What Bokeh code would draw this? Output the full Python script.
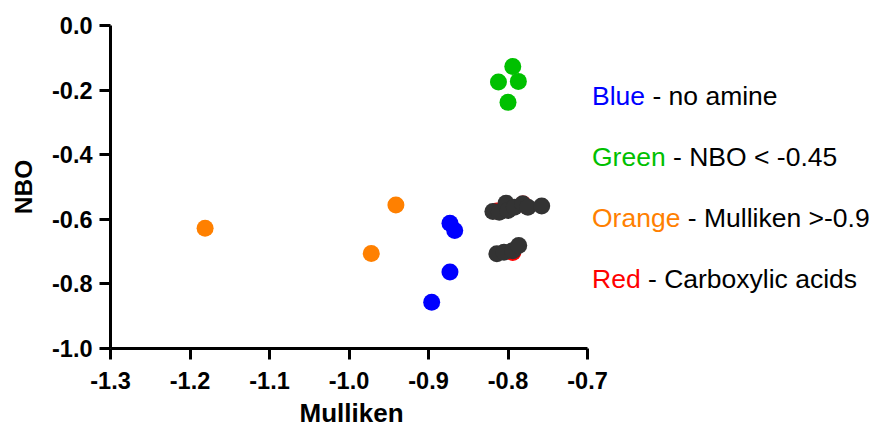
from bokeh.plotting import figure
from bokeh.models import Range1d, FixedTicker, Title
from bokeh.core.properties import value
from bokeh.embed import file_html
from bokeh.resources import INLINE

# ---- data ----
blue_x = [-0.873, -0.867, -0.873, -0.896]
blue_y = [-0.612, -0.635, -0.763, -0.857]

green_x = [-0.794, -0.812, -0.787, -0.800]
green_y = [-0.127, -0.175, -0.173, -0.238]

orange_x = [-1.181, -0.941, -0.972]
orange_y = [-0.628, -0.556, -0.706]

red_x = [-0.814, -0.781, -0.794]
red_y = [-0.574, -0.553, -0.703]

black_x = [-0.819, -0.811, -0.8025, -0.800, -0.792, -0.7815, -0.775, -0.7576,
           -0.814, -0.805, -0.794, -0.7865]
black_y = [-0.576, -0.578, -0.550, -0.573, -0.5625, -0.552, -0.5625, -0.559,
           -0.707, -0.702, -0.697, -0.681]

x_ticks = [-1.3, -1.2, -1.1, -1.0, -0.9, -0.8, -0.7]
x_tick_labels = ["-1.3", "-1.2", "-1.1", "-1.0", "-0.9", "-0.8", "-0.7"]
y_ticks = [0.0, -0.2, -0.4, -0.6, -0.8, -1.0]
y_tick_labels = ["0.0", "-0.2", "-0.4", "-0.6", "-0.8", "-1.0"]

legend_words = ["Blue", "Green", "Orange", "Red"]
legend_rest = ["- no amine", "- NBO < -0.45", "- Mulliken >-0.9", "- Carboxylic acids"]
legend_colors = ["#0000FF", "#00C000", "#FF8000", "#FF0000"]

FONT = "Liberation Sans"

# ---- layout geometry (pixels) ----
W, H = 877, 432
FL, FT, FB = 110, 25, 349          # frame left / top / bottom
AX_RIGHT = 587                     # pixel where x = -0.7 lies
x0, x1 = -1.3, -0.7
x_end = x0 + (x1 - x0) * (W - FL) / (AX_RIGHT - FL)   # frame extends to the right edge


def ypix(py):
    return -(py - FT) / (FB - FT)


def xpix(px):
    return x0 + (x1 - x0) * (px - FL) / (AX_RIGHT - FL)


p = figure(width=W, height=H, output_backend="svg", toolbar_location=None,
           x_range=Range1d(x0, x_end), y_range=Range1d(-1.0, 0.0),
           min_border_left=FL, min_border_right=0,
           min_border_top=FT, min_border_bottom=H - FB)
p.outline_line_color = None
p.xgrid.visible = False
p.ygrid.visible = False
p.background_fill_color = "white"
p.border_fill_color = "white"

for ax, ticks, labels in ((p.xaxis[0], x_ticks, x_tick_labels), (p.yaxis[0], y_ticks, y_tick_labels)):
    ax.ticker = FixedTicker(ticks=ticks)
    ax.major_label_overrides = {t: l for t, l in zip(ticks, labels)}
    ax.axis_line_width = 3
    ax.axis_line_color = "black"
    ax.major_tick_line_width = 3
    ax.major_tick_line_color = "black"
    ax.major_tick_out = 11
    ax.major_tick_in = 0
    ax.minor_tick_line_color = None
    ax.major_label_text_font = FONT
    ax.major_label_text_font_style = "bold"
    ax.major_label_text_font_size = "23.5px"
    ax.major_label_text_color = "black"
    ax.axis_label_text_font = FONT
    ax.axis_label_text_font_style = "bold"
    ax.axis_label_text_color = "black"

p.xaxis.bounds = (x0, x1)
p.xaxis.major_label_standoff = 12
p.yaxis.axis_label = "NBO"
p.yaxis.axis_label_text_font_size = "24.5px"
p.yaxis.major_label_standoff = 7
p.yaxis.axis_label_standoff = 12

# x-axis title, centred under the -1.3 .. -0.7 axis
p.add_layout(Title(text="Mulliken", align="left", offset=189, standoff=9,
                   text_font=FONT, text_font_style="bold", text_font_size="26px",
                   text_line_height=1.0, text_color="black"), "below")

S = 17
p.scatter(green_x, green_y, size=S, color="#00C000", line_color=None)
p.scatter(orange_x, orange_y, size=S, color="#FF8000", line_color=None)
p.scatter(blue_x, blue_y, size=S, color="#0000FF", line_color=None)
p.scatter(red_x, red_y, size=S, color="#FF0000", line_color=None)
p.scatter(black_x, black_y, size=S, color="#333333", line_color=None)

# legend text to the right of the axes
FS = 26.5
word_px = {"Blue": 2.001, "Green": 2.779, "Orange": 3.335, "Red": 1.834}
base_py = [96, 157, 218, 279]
lx = xpix(591.5)
for w, r, c, py in zip(legend_words, legend_rest, legend_colors, base_py):
    yy = ypix(py)
    p.text(x=[lx], y=[yy], text=[w], text_color=c, text_font=value(FONT),
           text_font_size=f"{FS}px", text_baseline="alphabetic", text_align="left")
    p.text(x=[lx], y=[yy], text=[r], x_offset=(word_px[w] + 0.278) * FS,
           text_color="black", text_font=value(FONT),
           text_font_size=f"{FS}px", text_baseline="alphabetic", text_align="left")

open("out.html", "w").write(file_html(p, INLINE))
